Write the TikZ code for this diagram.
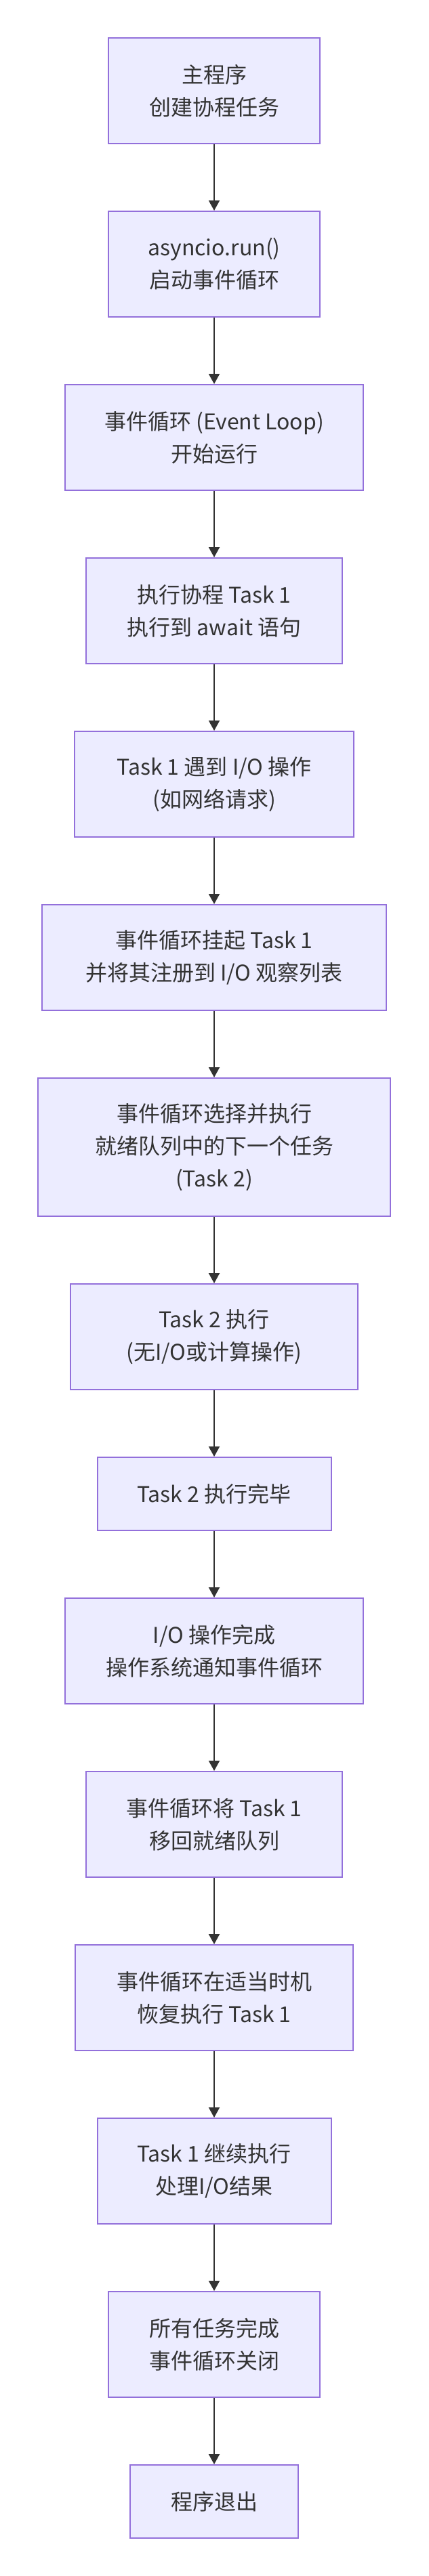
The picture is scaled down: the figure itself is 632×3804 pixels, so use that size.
\documentclass[tikz,border=0pt]{standalone}
\usepackage{fontspec}
\setmainfont{Noto Sans CJK SC}
\usetikzlibrary{arrows.meta}
\definecolor{boxfill}{HTML}{ECECFF}
\definecolor{boxline}{HTML}{9370DB}
\definecolor{ink}{HTML}{333333}
\begin{document}
\begin{tikzpicture}[x=1pt,y=-1pt,
  flowbox/.style={draw=boxline, fill=boxfill, line width=2pt, inner sep=0pt,
    text=ink, align=center, font=\fontsize{32}{48}\selectfont, minimum height=156pt},
  conn/.style={draw=ink, line width=2pt, -{Triangle[length=15pt,width=16pt]}}]
\useasboundingbox (0,0) rectangle (632,3804);
\node[flowbox, minimum width=312pt] (n1) at (316,134) {主程序\\创建协程任务};
\node[flowbox, minimum width=312pt] (n2) at (316,390) {asyncio.run()\\启动事件循环};
\node[flowbox, minimum width=440pt] (n3) at (316,646) {事件循环 (Event Loop)\\开始运行};
\node[flowbox, minimum width=378pt] (n4) at (316,902) {执行协程 Task 1\\执行到 await 语句};
\node[flowbox, minimum width=412pt] (n5) at (316,1158) {Task 1 遇到 I/O 操作\\(如网络请求)};
\node[flowbox, minimum width=508pt] (n6) at (316,1414) {事件循环挂起 Task 1\\并将其注册到 I/O 观察列表};
\node[flowbox, minimum width=520pt, minimum height=204pt] (n7) at (316,1694) {事件循环选择并执行\\就绪队列中的下一个任务\\(Task 2)};
\node[flowbox, minimum width=424pt] (n8) at (316,1974) {Task 2 执行\\(无I/O或计算操作)};
\node[flowbox, minimum width=345pt, minimum height=108pt] (n9) at (316,2206) {Task 2 执行完毕};
\node[flowbox, minimum width=440pt] (n10) at (316,2438) {I/O 操作完成\\操作系统通知事件循环};
\node[flowbox, minimum width=378pt] (n11) at (316,2694) {事件循环将 Task 1\\移回就绪队列};
\node[flowbox, minimum width=410pt] (n12) at (316,2950) {事件循环在适当时机\\恢复执行 Task 1};
\node[flowbox, minimum width=345pt] (n13) at (316,3206) {Task 1 继续执行\\处理I/O结果};
\node[flowbox, minimum width=312pt] (n14) at (316,3462) {所有任务完成\\事件循环关闭};
\node[flowbox, minimum width=248pt, minimum height=108pt] (n15) at (316,3694) {程序退出};
\foreach \a/\b in {n1/n2,n2/n3,n3/n4,n4/n5,n5/n6,n6/n7,n7/n8,n8/n9,n9/n10,n10/n11,n11/n12,n12/n13,n13/n14,n14/n15}
  \draw[conn] (\a.south) -- (\b.north);
\end{tikzpicture}
\end{document}
